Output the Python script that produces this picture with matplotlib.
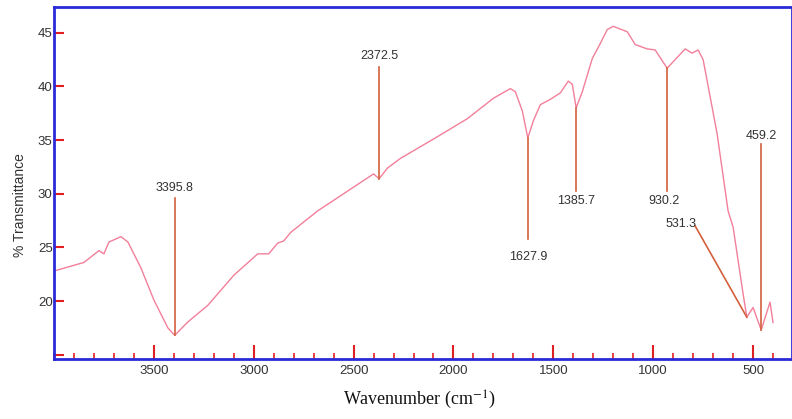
import matplotlib.pyplot as plt
from matplotlib.ticker import MultipleLocator

# spectrum
wavenumber = [4000, 3850, 3775, 3750, 3725, 3665, 3630, 3565, 3500, 3430,
              3395.8, 3330, 3230, 3100, 2980, 2925, 2880, 2850, 2815, 2680,
              2400, 2372.5, 2330, 2265, 2100, 1930, 1800, 1715, 1690, 1655,
              1627.9, 1600, 1565, 1515, 1465, 1425, 1405, 1385.7, 1355, 1305,
              1265, 1230, 1200, 1130, 1090, 1030, 990, 930.2, 840, 805,
              775, 750, 680, 625, 600, 550, 531.3, 500, 459.2, 415, 400]
transmittance = [22.8, 23.6, 24.7, 24.4, 25.5, 26.0, 25.5, 23.1, 20.1, 17.5,
                 16.8, 18.05, 19.6, 22.4, 24.4, 24.4, 25.4, 25.6, 26.4, 28.4,
                 31.85, 31.4, 32.4, 33.3, 35.1, 37.0, 38.9, 39.8, 39.5, 37.7,
                 35.2, 36.8, 38.3, 38.8, 39.4, 40.5, 40.2, 38.0, 39.5, 42.6,
                 44.0, 45.3, 45.6, 45.1, 43.9, 43.5, 43.4, 41.7, 43.5, 43.1,
                 43.4, 42.5, 35.6, 28.4, 26.9, 20.7, 18.5, 19.4, 17.3, 19.9, 18.0]

# peak labels
peak_labels = ['3395.8', '2372.5', '1627.9', '1385.7', '930.2', '459.2', '531.3']
peak_wn = [3395.8, 2372.5, 1627.9, 1385.7, 930.2, 459.2, 531.3]
peak_t = [16.8, 31.4, 35.2, 38.0, 41.7, 17.3, 18.5]
# where each label sits (wavenumber, %T)
label_wn = [3395.8, 2372.5, 1627.9, 1385.7, 945, 459.2, 860]
label_t = [30.55, 42.8, 24.1, 29.35, 29.35, 35.4, 27.2]
# end of the leader line next to the label
leader_wn = [3395.8, 2372.5, 1627.9, 1385.7, 930.2, 459.2, 790]
leader_t = [29.6, 41.85, 25.8, 30.3, 30.3, 34.6, 27.0]

sans = 'Liberation Sans'
plt.rcParams['mathtext.fontset'] = 'stix'

fig = plt.figure(figsize=(7.92, 4.19), dpi=100)
ax = fig.add_axes([0.0682, 0.1432, 0.9318, 0.840])

ax.plot(wavenumber, transmittance, color='#f27f9a', lw=1.0)

for lab, xw, yt, lx, ly, ex, ey in zip(peak_labels, peak_wn, peak_t,
                                        label_wn, label_t, leader_wn, leader_t):
    ax.plot([xw, ex], [yt, ey], color='#d2603c', lw=1.2)
    ax.text(lx, ly, lab, ha='center', va='center', fontsize=9,
            color='#333333', family=sans)

ax.set_xlim(4000, 305)
ax.set_ylim(14.6, 47.4)
ax.xaxis.set_minor_locator(MultipleLocator(100))
ax.set_xticks([3500, 3000, 2500, 2000, 1500, 1000, 500])
ax.set_yticks([15, 20, 25, 30, 35, 40, 45])
ax.set_yticklabels(['', '20', '25', '30', '35', '40', '45'])

for s in ax.spines.values():
    s.set_color('#2a2ad8')
    s.set_linewidth(2)

ax.tick_params(axis='both', which='both', direction='in', color='#e02020',
               labelcolor='#333333', labelsize=9.5)
ax.tick_params(axis='x', which='major', length=10, width=1.5, pad=4)
ax.tick_params(axis='x', which='minor', length=4, width=1.2)
ax.tick_params(axis='y', which='major', length=7, width=1.5, pad=1)
for t in ax.get_xticklabels() + ax.get_yticklabels():
    t.set_family(sans)

fig.text(0.025, 0.51, '% Transmittance', rotation=90, ha='center', va='center',
         fontsize=10, color='#333333', family=sans)
fig.text(0.53, 0.045, r'Wavenumber (cm$^{-1}$)', ha='center', va='center',
         fontsize=13, family='Liberation Serif', color='#111111')

fig.savefig('out.png', dpi=100)
